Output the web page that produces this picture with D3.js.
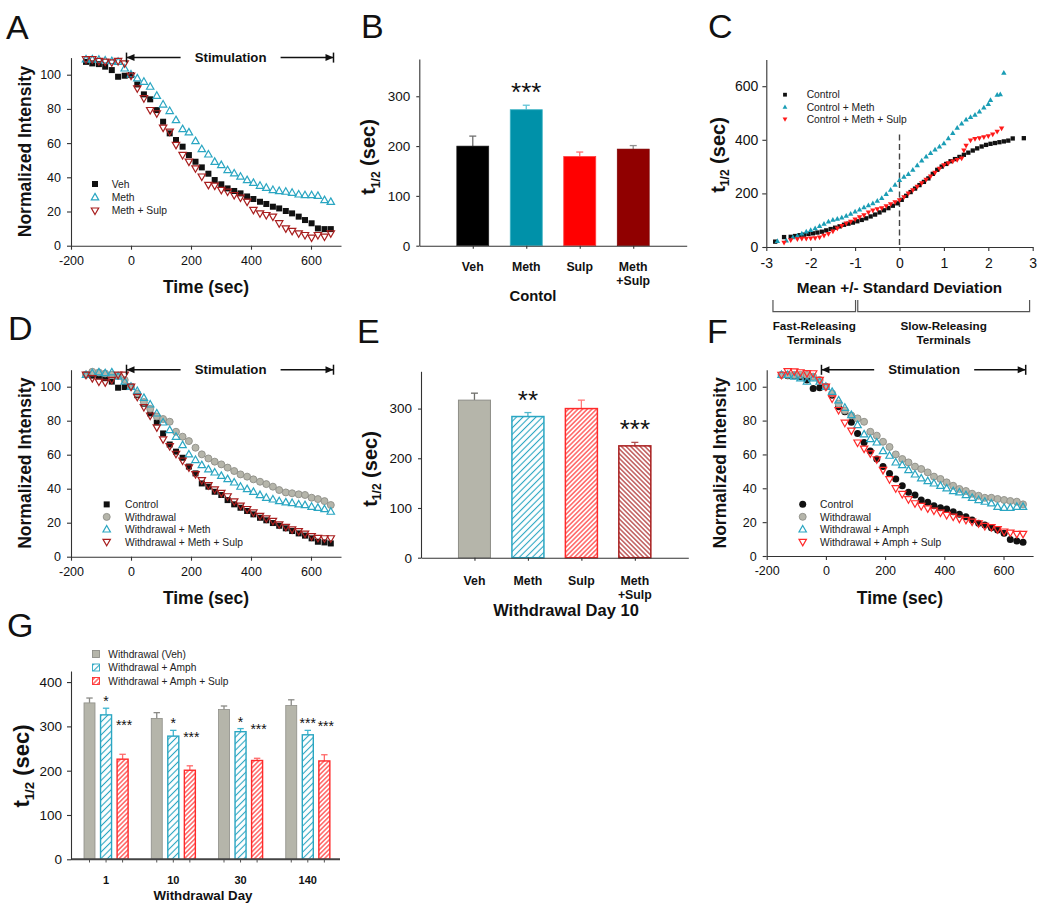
<!DOCTYPE html>
<html><head><meta charset="utf-8">
<script src="https://cdn.jsdelivr.net/npm/d3@7"></script>
<style>body{margin:0;background:#fff} svg{display:block} text{font-family:"Liberation Sans",Arial,sans-serif}</style>
</head><body><svg id="fig" width="1050" height="913"></svg>
<script>
// ---------------- DATA ----------------
const times = [-150,-129,-107,-86,-64,-43,-21,0,21,43,64,86,107,129,150,172,193,215,236,258,279,301,322,344,365,387,408,430,451,473,494,516,537,559,580,602,623,645,666];
const timeTicks = [-200,0,200,400,600];
const intensityTicks = [0,20,40,60,80,100];

// Panel A
const A_veh  = [107.5,106.6,106.2,104.7,102.7,98.8,99.4,99.8,94.3,88.5,85.6,79.3,72.5,65.7,61.8,57.9,53,49.1,45.8,42.1,38.4,35.9,33.5,32,30.6,28.8,27.3,25.7,24.4,22.8,21.8,20.3,18.9,17,15,13.1,10.1,9.7,9.7];
const A_meth = [109,109,108.8,108.4,108,107.6,103.7,100.2,97.9,95.9,93,87.7,82.6,78.8,73.5,68.2,66.3,61.2,56.5,53.4,49.1,47.2,44.2,42.3,40.4,38.4,36.8,35.1,33.9,32.6,32,31.6,31,30,29.6,29.6,29.2,26.7,25.7];
const A_methSulp = [109,109,108,107.6,107.2,108,106.6,99.4,92,86.2,79.3,77.4,69,66.7,58.9,53,49.1,45.2,40.4,35.5,35.1,32.6,31.6,29.6,28.1,25.7,20.9,18.9,17.9,17,13.1,10.1,8.6,7.2,6.2,4.7,6.2,5.3,7.2];
const A_names = ["Veh","Meth","Meth + Sulp"];

// Panel D
const D_control = [107,106.5,106,105,103,99.4,99.8,100,95,90,84.3,79,72.5,66,61.8,58.2,53,49,43.1,41.2,38.2,36.3,33.3,30.8,28.8,26.9,24.9,22.9,21.4,19.8,18.2,16.7,15.1,13.7,12.4,10.8,8.8,8.4,7.8];
const D_withdrawal = [107,108.8,108.4,107.8,107,106.5,104,100,96,91,87,82.5,81,79.4,73.5,70.6,68,64.1,60.2,57.8,55.9,54.3,52.4,50.4,48.4,47.1,45.5,44.1,42.7,41.2,39.2,37.8,37.3,36.7,36.3,34.7,33.9,32.7,30.4];
const D_wMeth = [107,108,108.5,108,108.5,106,103,100,97.5,93.5,89.6,84.3,79,74.5,70.6,65.7,60.2,56.9,53.9,51.4,49.6,47.6,45.7,43.7,41.2,39.8,38.2,36.3,34.7,33.7,32.7,32,31.6,30.8,30.4,29.4,28.8,28,26.5];
const D_wMethSulp = [107,105,103,102.5,104,107,107,100,94,88,83,76,69,65,60.5,56.5,52.5,48.5,45,42,39.5,37.5,35.5,32.5,30,28,26,24,22.5,21,19,17.5,16,15,13.5,12,11,10.8,10.8];
const D_names = ["Control","Withdrawal","Withdrawal + Meth","Withdrawal + Meth + Sulp"];

// Panel F
const F_control = [107,106.5,106.5,106,104,99,99.4,100,95,88.2,85.2,79,72.4,67.1,62,57.3,52.8,48.8,45.5,41.5,37.6,36,33.1,31.7,29.7,28.5,27.8,26.2,24.6,23.2,21.3,19.3,18.3,16.7,15.4,13.4,9.8,8.9,8.1];
const F_withdrawal = [107,107,107,107,107,106,104,100,96,90,86,83,81.3,79.3,73.4,71.1,67.5,64.4,60,57.3,55.3,52.8,51.4,49.4,46.9,45.5,43.5,41.5,39.6,38.4,36.8,35.6,34.4,34.4,33.7,33.1,32.5,32.1,30.5];
const F_wAmph = [107,107,106,105,103,105,103,100,97,92,87.6,83.3,77.4,71.9,69.1,67.1,62,59.3,55.3,53.7,50.8,48.2,45.9,44.3,42.9,41.5,40,38.4,37.6,36,34.4,33.1,32.1,31.1,29.1,28.5,28.5,29.1,29.1];
const F_wAmphSulp = [107,109.2,109,108.5,108,107.9,104,100,93,86.2,78.7,74,67,63.4,60.6,57.1,50.8,45.3,40,36.6,33.5,31.1,29.5,28.1,26.8,25.6,24.2,23.2,22,21.3,20.3,19.3,17.7,17,15.8,14.4,13.8,13,13];
const F_names = ["Control","Withdrawal","Withdrawal + Amph","Withdrawal + Amph + Sulp"];

// Panel B
const B_cats = ["Veh","Meth","Sulp","Meth|+Sulp"];
const B_means = [200,273,179,194];
const B_errs = [20,9,9,7];
const B_sig = ["","***","",""];

// Panel E
const E_cats = ["Veh","Meth","Sulp","Meth|+Sulp"];
const E_means = [317,284,300,225];
const E_errs = [14,8,17,7];
const E_sig = ["","**","","***"];

// Panel C
const C_ctrl_sd = [-2.8,-2.6,-2.45,-2.35,-2.25,-2.15,-2.05,-1.95,-1.85,-1.75,-1.65,-1.55,-1.45,-1.35,-1.25,-1.15,-1.05,-0.95,-0.85,-0.75,-0.65,-0.55,-0.45,-0.35,-0.25,-0.15,-0.05,0.05,0.15,0.25,0.35,0.45,0.55,0.65,0.75,0.85,0.95,1.05,1.15,1.25,1.35,1.45,1.55,1.65,1.75,1.85,1.95,2.05,2.15,2.25,2.35,2.45,2.55,2.8];
const C_ctrl_t  = [20,37,38,41,44,46,49,51,54,57,62,67,72,77,83,87,91,96,101,107,114,121,129,137,145,154,163,176,191,205,218,231,243,256,273,288,300,310,320,328,336,344,352,360,368,375,381,385,388,391,394,397,405,406];
const C_meth_sd = [-2.75,-2.55,-2.4,-2.3,-2.2,-2.1,-2.0,-1.9,-1.8,-1.7,-1.6,-1.5,-1.4,-1.3,-1.2,-1.1,-1.0,-0.9,-0.8,-0.7,-0.6,-0.5,-0.4,-0.3,-0.2,-0.1,0,0.1,0.2,0.3,0.4,0.5,0.6,0.7,0.8,0.9,1.0,1.1,1.2,1.3,1.4,1.5,1.6,1.7,1.8,1.9,2.0,2.05,2.2,2.27,2.35];
const C_meth_t  = [22,24,36,42,50,57,63,70,78,86,95,101,105,110,116,124,132,140,148,155,163,172,182,197,213,232,250,262,272,288,305,322,337,350,363,375,387,405,425,445,460,475,485,493,505,520,533,548,568,570,650];
const C_sulp_sd = [-2.6,-2.45,-2.3,-2.2,-2.1,-2.0,-1.9,-1.8,-1.7,-1.6,-1.5,-1.4,-1.3,-1.2,-1.1,-1.0,-0.9,-0.8,-0.7,-0.6,-0.5,-0.4,-0.3,-0.2,-0.1,0,0.1,0.2,0.3,0.4,0.5,0.6,0.7,0.8,0.9,1.0,1.1,1.2,1.3,1.4,1.45,1.5,1.6,1.7,1.8,1.9,2.0,2.1,2.2,2.3];
const C_sulp_t  = [16,26,29,31,31,32,33,36,42,49,58,69,79,88,95,103,111,119,129,137,141,145,152,160,167,175,186,200,212,225,238,251,263,277,292,305,313,319,325,331,360,378,398,403,406,410,414,420,430,443];
const C_names = ["Control","Control + Meth","Control + Meth + Sulp"];
const C_xTicks = [-3,-2,-1,0,1,2,3];
const C_yTicks = [0,200,400,600];

// Panel G
const G_days = ["1","10","30","140"];
const G_series = ["Withdrawal (Veh)","Withdrawal + Amph","Withdrawal + Amph + Sulp"];
const G_veh = [353,318,338,347];
const G_vehErr = [11,13,8,13];
const G_amph = [326,278,288,281];
const G_amphErr = [15,13,7,10];
const G_sulp = [226,201,223,222];
const G_sulpErr = [11,10,5,14];
const G_sigAmph = ["*","*","*","***"];
const G_sigSulp = ["***","***","***","***"];

// ---------------- DRAWING ----------------
const svg = d3.select("#fig");
svg.append("rect").attr("width",1050).attr("height",913).attr("fill","#fff");
const defs = svg.append("defs");
function hatch(id, color, spacing, angle, sw) {
  const p = defs.append("pattern").attr("id", id).attr("patternUnits","userSpaceOnUse")
    .attr("width", spacing).attr("height", spacing).attr("patternTransform", `rotate(${angle})`);
  p.append("rect").attr("width",spacing).attr("height",spacing).attr("fill","#fff");
  p.append("line").attr("x1",spacing/2).attr("y1",-1).attr("x2",spacing/2).attr("y2",spacing+1)
    .attr("stroke",color).attr("stroke-width",sw);
}
const CYAN = "#2aa6c2", DRED = "#a81e1e", BRED = "#ff2a2a", GREYF = "#b5b5aa", GREYS = "#8e8e88";
hatch("hCyan", CYAN, 4.6, 45, 1.1);
hatch("hRed", BRED, 3.3, 45, 1.1);
hatch("hDRed", DRED, 3.3, -45, 1.1);

function styleAxis(g, fs) {
  g.select(".domain").attr("stroke","#333").attr("stroke-width",1.1);
  g.selectAll(".tick line").attr("stroke","#333").attr("stroke-width",1.1);
  g.selectAll(".tick text").attr("font-size",fs).attr("fill","#111").attr("font-family","Liberation Sans, Arial, sans-serif");
}
function panelLetter(t, x, y) {
  svg.append("text").attr("x",x).attr("y",y).attr("font-size",34).attr("fill","#111").text(t);
}
function boldText(t, x, y, fs, anchor) {
  return svg.append("text").attr("x",x).attr("y",y).attr("font-size",fs).attr("font-weight","bold")
    .attr("text-anchor",anchor||"middle").attr("fill","#111").text(t);
}
function rotLabel(t, cx, cy, fs) {
  svg.append("text").attr("transform",`translate(${cx},${cy}) rotate(-90)`).attr("text-anchor","middle")
    .attr("dy","0.36em").attr("font-size",fs).attr("font-weight","bold").attr("fill","#111").text(t);
}
function tHalf(cx, cy, fs) {
  const t = svg.append("text").attr("transform",`translate(${cx},${cy}) rotate(-90)`).attr("text-anchor","middle")
    .attr("font-size",fs).attr("font-weight","bold").attr("fill","#111");
  t.append("tspan").attr("dy","0.36em").text("t");
  t.append("tspan").attr("font-size",fs*0.6).attr("dy",fs*0.22).text("1/2");
  t.append("tspan").attr("dy",-fs*0.22).text(" (sec)");
}
function triPath(w, up) {
  const h = w*0.88;
  return up ? `M0,${-h*0.6}L${w/2},${h*0.4}L${-w/2},${h*0.4}Z` : `M0,${h*0.6}L${w/2},${-h*0.4}L${-w/2},${-h*0.4}Z`;
}
function marker(g, kind, style, px, py) {
  if (kind === "square") {
    g.append("rect").attr("x",px-style.s/2).attr("y",py-style.s/2).attr("width",style.s).attr("height",style.s)
      .attr("fill",style.fill).attr("stroke",style.stroke||"none").attr("stroke-width",style.sw||0);
  } else if (kind === "circle") {
    g.append("circle").attr("cx",px).attr("cy",py).attr("r",style.s/2)
      .attr("fill",style.fill).attr("stroke",style.stroke||"none").attr("stroke-width",style.sw||0);
  } else {
    g.append("path").attr("transform",`translate(${px},${py})`).attr("d",triPath(style.s, kind==="up"))
      .attr("fill",style.fill).attr("stroke",style.stroke||"none").attr("stroke-width",style.sw||0);
  }
}

function timePanel(o) {
  const x = d3.scaleLinear().domain([-200,700]).range(o.xr);
  const y = d3.scaleLinear().domain([0,110]).range(o.yr);
  const g = svg.append("g");
  const gx = g.append("g").attr("transform",`translate(0,${o.yr[0]})`)
    .call(d3.axisBottom(x).tickValues(timeTicks).tickFormat(d=>String(d)).tickSize(4).tickPadding(6).tickSizeOuter(0));
  styleAxis(gx, 12.5);
  const gy = g.append("g").attr("transform",`translate(${o.xr[0]},0)`)
    .call(d3.axisLeft(y).tickValues(intensityTicks).tickFormat(d=>String(d)).tickSize(4).tickPadding(6).tickSizeOuter(0));
  styleAxis(gy, 12.5);
  o.series.forEach(s => {
    const sg = g.append("g");
    s.values.forEach((v,i) => marker(sg, s.kind, s.style, x(times[i]), y(v)));
  });
  const yy = y(110), xs = x(-15), xe = x(675), xc = x(332);
  const ag = g.append("g").attr("stroke","#111").attr("stroke-width",1.5);
  ag.append("line").attr("x1",xs).attr("x2",xc-50).attr("y1",yy).attr("y2",yy);
  ag.append("line").attr("x1",xc+50).attr("x2",xe).attr("y1",yy).attr("y2",yy);
  ag.append("line").attr("x1",xs).attr("x2",xs).attr("y1",yy-5).attr("y2",yy+5);
  ag.append("line").attr("x1",xe).attr("x2",xe).attr("y1",yy-5).attr("y2",yy+5);
  g.append("path").attr("d",`M${xs},${yy}l8,-3.5v7z`).attr("fill","#111");
  g.append("path").attr("d",`M${xe},${yy}l-8,-3.5v7z`).attr("fill","#111");
  g.append("text").attr("x",xc).attr("y",yy+4.6).attr("text-anchor","middle").attr("font-size",13.2)
    .attr("font-weight","bold").attr("fill","#111").text("Stimulation");
  o.series.forEach((s,i) => {
    const ly = o.leg.y + i*o.leg.dy;
    marker(g, s.kind, s.style, o.leg.mx, ly);
    g.append("text").attr("x",o.leg.tx).attr("y",ly+3.7).attr("font-size",10.3).attr("fill","#222").text(s.name);
  });
  boldText("Time (sec)", (o.xr[0]+o.xr[1])/2, o.yr[0]+47.5, 17.5);
  rotLabel("Normalized Intensity", o.ylabX, (o.yr[0]+o.yr[1])/2, 17.5);
}

const sqBlack = {s:6, fill:"#111"};
const cBlack = {s:7, fill:"#111"};
const cGrey = {s:7, fill:GREYF, stroke:GREYS, sw:0.9};
const triCyan = {s:7.4, fill:"none", stroke:CYAN, sw:1.2};
const triDRed = {s:7.4, fill:"none", stroke:DRED, sw:1.2};
const triBRed = {s:7.4, fill:"none", stroke:BRED, sw:1.2};

timePanel({xr:[71,341], yr:[245.7,57.6], ylabX:25,
  series:[{name:A_names[0],values:A_veh,kind:"square",style:sqBlack},
          {name:A_names[1],values:A_meth,kind:"up",style:triCyan},
          {name:A_names[2],values:A_methSulp,kind:"down",style:triDRed}],
  leg:{mx:95, tx:111.7, y:184, dy:13.3}});
timePanel({xr:[71,341], yr:[556.7,369.7], ylabX:25,
  series:[{name:D_names[0],values:D_control,kind:"square",style:sqBlack},
          {name:D_names[1],values:D_withdrawal,kind:"circle",style:cGrey},
          {name:D_names[2],values:D_wMeth,kind:"up",style:triCyan},
          {name:D_names[3],values:D_wMethSulp,kind:"down",style:triDRed}],
  leg:{mx:106.7, tx:125, y:504.4, dy:12.5}});
timePanel({xr:[766.7,1033.1], yr:[556,369.8], ylabX:720,
  series:[{name:F_names[0],values:F_control,kind:"circle",style:cBlack},
          {name:F_names[1],values:F_withdrawal,kind:"circle",style:cGrey},
          {name:F_names[2],values:F_wAmph,kind:"up",style:triCyan},
          {name:F_names[3],values:F_wAmphSulp,kind:"down",style:triBRed}],
  leg:{mx:802.7, tx:820, y:504.2, dy:12.6}});

function barPanel(o) {
  const x = d3.scaleLinear().domain([0,5]).range(o.xr);
  const y = d3.scaleLinear().domain([0,375]).range(o.yr);
  const g = svg.append("g");
  o.means.forEach((m,i) => {
    const cx = x(i+1);
    g.append("line").attr("x1",cx).attr("x2",cx).attr("y1",y(m)).attr("y2",y(m+o.errs[i]))
      .attr("stroke",o.errColors[i]).attr("stroke-width",1.3);
    g.append("line").attr("x1",cx-3.5).attr("x2",cx+3.5).attr("y1",y(m+o.errs[i])).attr("y2",y(m+o.errs[i]))
      .attr("stroke",o.errColors[i]).attr("stroke-width",1.3);
    g.append("rect").attr("x",cx-16).attr("width",32).attr("y",y(m)).attr("height",y(0)-y(m))
      .attr("fill",o.fills[i]).attr("stroke",o.strokes[i]).attr("stroke-width",o.strokeW[i]);
    if (o.sig[i]) {
      g.append("text").attr("x",cx).attr("y",y(m+o.errs[i])-4).attr("text-anchor","middle")
        .attr("font-size",26).attr("fill","#111").text(o.sig[i]);
    }
    o.cats[i].split("|").forEach((ln,k) => {
      boldText(ln, cx, o.catY + k*14, 12.3);
    });
  });
  const gx = g.append("g").attr("transform",`translate(0,${o.yr[0]})`)
    .call(d3.axisBottom(x).tickValues([1,2,3,4]).tickFormat("").tickSize(3).tickSizeOuter(0));
  styleAxis(gx, 12);
  const gy = g.append("g").attr("transform",`translate(${o.xr[0]},0)`)
    .call(d3.axisLeft(y).tickValues([0,100,200,300]).tickFormat(d=>String(d)).tickSize(3).tickPadding(6).tickSizeOuter(0));
  styleAxis(gy, 13.5);
}
barPanel({xr:[419.3,686.7], yr:[245.7,58.9], cats:B_cats, means:B_means, errs:B_errs, sig:B_sig,
  fills:["#000000","#0091a9","#ff0000","#900000"], strokes:["#222","#3fb4c6","#ff4040","#7a0000"], strokeW:[0.6,0.8,0.8,0.6],
  errColors:["#707070","#60c4d6","#ff7070","#909090"], catY:271});
boldText("Contol", 533, 300.5, 14.8);
tHalf(368, 157, 20);

barPanel({xr:[421,688.3], yr:[557.7,371.3], cats:E_cats, means:E_means, errs:E_errs, sig:E_sig,
  fills:[GREYF,"url(#hCyan)","url(#hRed)","url(#hDRed)"], strokes:[GREYS,CYAN,BRED,DRED], strokeW:[1,1.5,1.5,1.5],
  errColors:["#6e6e6a","#50b8cc","#ff7a7a","#b05050"], catY:584.5});
boldText("Withdrawal Day 10", 566, 616, 16.5);
tHalf(369.5, 469, 20);

// ---- panel C ----
(function(){
  const x = d3.scaleLinear().domain([-3,3]).range([766.3,1032.7]);
  const y = d3.scaleLinear().domain([0,700]).range([247,59.4]);
  const g = svg.append("g");
  g.append("line").attr("x1",x(0)).attr("x2",x(0)).attr("y1",y(420)).attr("y2",y(0))
    .attr("stroke","#444").attr("stroke-width",1.4).attr("stroke-dasharray","6,3.5");
  const sq = {s:4.3, fill:"#111"};
  const tc = {s:5.4, fill:"#1a9db5"};
  const tr = {s:5.4, fill:"#ff1a1a"};
  C_ctrl_sd.forEach((d,i)=>marker(g,"square",sq,x(d),y(C_ctrl_t[i])));
  C_meth_sd.forEach((d,i)=>marker(g,"up",tc,x(d),y(C_meth_t[i])));
  C_sulp_sd.forEach((d,i)=>marker(g,"down",tr,x(d),y(C_sulp_t[i])));
  const gx = g.append("g").attr("transform",`translate(0,247)`)
    .call(d3.axisBottom(x).tickValues(C_xTicks).tickFormat(d=>String(d)).tickSize(4).tickPadding(7).tickSizeOuter(0));
  styleAxis(gx, 14);
  const gy = g.append("g").attr("transform",`translate(766.3,0)`)
    .call(d3.axisLeft(y).tickValues(C_yTicks).tickFormat(d=>String(d)).tickSize(4).tickPadding(4).tickSizeOuter(0));
  styleAxis(gy, 14);
  const ls = [["square",{s:3.8, fill:"#111"}],["up",{s:4.8, fill:"#1a9db5"}],["down",{s:4.8, fill:"#ff1a1a"}]];
  C_names.forEach((n,i)=>{
    const ly = 94.7 + i*12.3;
    marker(g, ls[i][0], ls[i][1], 785, ly);
    g.append("text").attr("x",806.7).attr("y",ly+3.7).attr("font-size",10.3).attr("fill","#222").text(n);
  });
  boldText("Mean +/- Standard Deviation", x(0), 292.5, 15.3);
  const bg = g.append("g").attr("stroke","#555").attr("stroke-width",1.2).attr("fill","none");
  [[-2.85,-0.99],[-0.94,2.93]].forEach(([a,b])=>{
    bg.append("path").attr("d",`M${x(a)},300V311.7H${x(b)}V300`);
  });
  boldText("Fast-Releasing", (x(-2.85)+x(-0.99))/2, 329.5, 11.7);
  boldText("Terminals", (x(-2.85)+x(-0.99))/2, 343.5, 11.7);
  boldText("Slow-Releasing", (x(-0.94)+x(2.93))/2, 329.5, 11.7);
  boldText("Terminals", (x(-0.94)+x(2.93))/2, 343.5, 11.7);
})();
tHalf(717.5, 155, 20);

// ---- panel G ----
(function(){
  const x0 = d3.scaleBand().domain(G_days).range([71,340]);
  const x1 = d3.scaleBand().domain(G_series).range([13,57.1]).paddingInner(0.335);
  const y = d3.scaleLinear().domain([0,425]).range([859.3,671]);
  const g = svg.append("g");
  const vals = [G_veh, G_amph, G_sulp], errs = [G_vehErr, G_amphErr, G_sulpErr];
  const fills = [GREYF, "url(#hCyan)", "url(#hRed)"], strokes = [GREYS, CYAN, BRED], sws = [0.8,1.4,1.4];
  const errC = ["#8a8a86", "#40b6d0", "#ff6a6a"];
  const bw = x1.bandwidth();
  G_days.forEach((d,i)=>{
    G_series.forEach((s,k)=>{
      const bx = x0(d)+x1(s), v = vals[k][i], e = errs[k][i], cx = bx+bw/2;
      g.append("line").attr("x1",cx).attr("x2",cx).attr("y1",y(v)).attr("y2",y(v+e)).attr("stroke",errC[k]).attr("stroke-width",1.3);
      g.append("line").attr("x1",cx-3.2).attr("x2",cx+3.2).attr("y1",y(v+e)).attr("y2",y(v+e)).attr("stroke",errC[k]).attr("stroke-width",1.3);
      g.append("rect").attr("x",bx).attr("width",bw).attr("y",y(v)).attr("height",y(0)-y(v))
        .attr("fill",fills[k]).attr("stroke",strokes[k]).attr("stroke-width",sws[k]);
      g.append("line").attr("x1",cx).attr("x2",cx).attr("y1",859.3).attr("y2",862.5).attr("stroke","#555");
    });
    const cA = x0(d)+x1(G_series[1])+bw/2, cS = x0(d)+x1(G_series[2])+bw/2;
    g.append("text").attr("x",cA).attr("y",y(G_amph[i]+G_amphErr[i])-2).attr("text-anchor","middle")
      .attr("font-size",14).attr("fill","#111").text(G_sigAmph[i]);
    g.append("text").attr("x",cS+1.5).attr("y",y(G_sulp[i]+G_sulpErr[i])-24).attr("text-anchor","middle")
      .attr("font-size",14).attr("fill","#111").text(G_sigSulp[i]);
    boldText(d, cA, 884, 11);
  });
  g.append("line").attr("x1",71).attr("x2",340).attr("y1",859.3).attr("y2",859.3).attr("stroke","#444").attr("stroke-width",2);
  const gy = g.append("g").attr("transform",`translate(71,0)`)
    .call(d3.axisLeft(y).tickValues([0,100,200,300,400]).tickFormat(d=>String(d)).tickSize(4).tickPadding(5).tickSizeOuter(0));
  styleAxis(gy, 13.5);
  G_series.forEach((s,k)=>{
    const ly = 654 + k*13.5;
    g.append("rect").attr("x",92.5).attr("y",ly-3.5).attr("width",7).attr("height",7)
      .attr("fill",fills[k]).attr("stroke",strokes[k]).attr("stroke-width",0.9);
    g.append("text").attr("x",108.3).attr("y",ly+3.7).attr("font-size",10.2).attr("fill","#222").text(s);
  });
  boldText("Withdrawal Day", 203, 900, 13.3);
})();
tHalf(21, 766, 22);

panelLetter("A", 6, 39);
panelLetter("B", 361, 38);
panelLetter("C", 708, 38);
panelLetter("D", 8, 340);
panelLetter("E", 357, 343);
panelLetter("F", 707, 343);
panelLetter("G", 7, 637);
</script></body></html>
